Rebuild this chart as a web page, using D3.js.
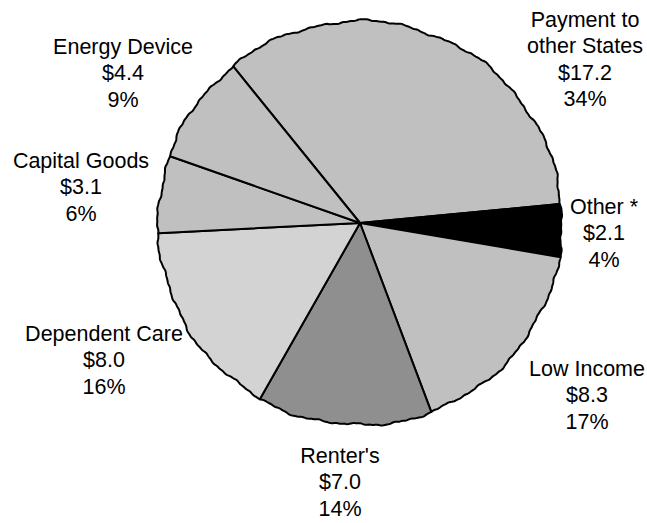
<!DOCTYPE html>
<html>
<head>
<meta charset="utf-8">
<script src="https://cdn.jsdelivr.net/npm/d3@7"></script>
<style>
  html, body { margin: 0; padding: 0; background: #fff; }
  svg { display: block; }
  text { font-family: Arial, "Liberation Sans", sans-serif; font-size: 21.5px; fill: #000; }
</style>
</head>
<body>
<svg id="chart" width="647" height="523"></svg>
<script>
const categories = ["Payment to other States", "Other *", "Low Income", "Renter's", "Dependent Care", "Capital Goods", "Energy Device"];
const values = [17.2, 2.1, 8.3, 7.0, 8.0, 3.1, 4.4];
const valueLabels = ["$17.2", "$2.1", "$8.3", "$7.0", "$8.0", "$3.1", "$4.4"];
const percentLabels = ["34%", "4%", "17%", "14%", "16%", "6%", "9%"];
const nameLines = [["Payment to", "other States"], ["Other *"], ["Low Income"], ["Renter's"], ["Dependent Care"], ["Capital Goods"], ["Energy Device"]];
const colors = ["#c0c0c0", "#000000", "#c0c0c0", "#8f8f8f", "#d3d3d3", "#c0c0c0", "#c0c0c0"];
// label anchor (center x, first-line center y)
const labelPos = [[585, 19], [604, 206], [587, 368], [340, 455], [104, 333], [81, 160], [123, 46]];

const svg = d3.select("#chart");
const cx = 360, cy = 223, R = 202;
const start = -39 * Math.PI / 180;

const pie = d3.pie().sort(null).value(d => d).startAngle(start).endAngle(start + 2 * Math.PI);
const arcs = pie(values);

// slightly irregular outer edge (style only)
function wob(a) {
  return 1.0 * Math.sin(a * 11 + 0.7) + 0.8 * Math.sin(a * 29 + 1.3) + 0.4 * Math.sin(a * 67 + 0.4) + 0.2 * Math.sin(a * 151 + 2.1);
}
function slicePath(d) {
  const n = Math.max(4, Math.ceil((d.endAngle - d.startAngle) / 0.006));
  let p = `M${cx},${cy}`;
  for (let i = 0; i <= n; i++) {
    const a = d.startAngle + (d.endAngle - d.startAngle) * i / n;
    const r = R + wob(a);
    p += `L${cx + r * Math.sin(a)},${cy - r * Math.cos(a)}`;
  }
  return p + "Z";
}

const g = svg.append("g");
g.selectAll("path.slice").data(arcs).enter().append("path")
  .attr("class", "slice")
  .attr("d", slicePath)
  .attr("fill", (d, i) => colors[i])
  .attr("stroke", "#000")
  .attr("stroke-width", 2)
  .attr("stroke-linejoin", "round");

const lh = 26.5;
arcs.forEach((d, i) => {
  const lines = nameLines[i].concat([valueLabels[i], percentLabels[i]]);
  const t = svg.append("text").attr("text-anchor", "middle");
  lines.forEach((ln, j) => {
    t.append("tspan")
      .attr("x", labelPos[i][0])
      .attr("y", labelPos[i][1] + j * lh)
      .attr("dy", "0.35em")
      .text(ln);
  });
});
</script>
</body>
</html>
